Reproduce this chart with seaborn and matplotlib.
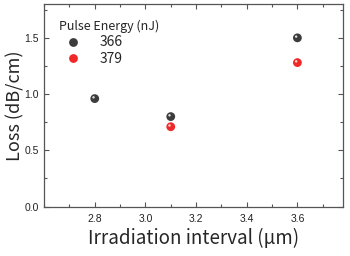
import pandas as pd
import matplotlib
matplotlib.use('Agg')
import matplotlib.pyplot as plt
import matplotlib.transforms as mtransforms
from matplotlib.ticker import MultipleLocator
import seaborn as sns

# data
interval_366 = [2.8, 3.1, 3.6]
loss_366 = [0.96, 0.80, 1.50]
interval_379 = [3.1, 3.6]
loss_379 = [0.71, 1.28]
energies = ['366', '379']
colors = {'366': '#3c3c3c', '379': '#f02828'}
xticks = [2.8, 3.0, 3.2, 3.4, 3.6]
yticks = [0.0, 0.5, 1.0, 1.5]

df = pd.concat([
    pd.DataFrame({'interval': interval_366, 'loss': loss_366, 'energy': '366'}),
    pd.DataFrame({'interval': interval_379, 'loss': loss_379, 'energy': '379'}),
])

sns.set_style('ticks')
plt.rcParams['font.family'] = ['Noto Sans CJK JP', 'DejaVu Sans']

fig = plt.figure(figsize=(3.5, 2.56), dpi=100)
ax = fig.add_axes([0.126, 0.193, 0.854, 0.791])

sns.scatterplot(data=df, x='interval', y='loss', hue='energy', hue_order=energies,
                palette=colors, s=40, edgecolor='none', ax=ax, zorder=3)

# small highlight to mimic the shaded spheres
hl = mtransforms.offset_copy(ax.transData, fig=fig, x=-0.9, y=0.9, units='points')
for xs, ys in [(interval_366, loss_366), (interval_379, loss_379)]:
    ax.scatter(xs, ys, s=3, color='white', alpha=0.85, edgecolor='none',
               transform=hl, zorder=4)

ax.set_xlim(2.6, 3.78)
ax.set_ylim(0, 1.8)
ax.set_xticks(xticks)
ax.set_yticks(yticks)
ax.xaxis.set_minor_locator(MultipleLocator(0.1))
ax.yaxis.set_minor_locator(MultipleLocator(0.25))
ax.tick_params(which='both', direction='in', top=True, right=True,
               labelsize=7.5, colors='#555555', labelcolor='#222222', pad=5)
ax.tick_params(axis='y', pad=4)
ax.tick_params(which='major', length=3.5, width=0.8)
ax.tick_params(which='minor', length=2, width=0.8)
for lab in ax.get_xticklabels() + ax.get_yticklabels():
    lab.set_family('Liberation Sans')
for s in ax.spines.values():
    s.set_color('#555555')
    s.set_linewidth(0.9)
    s.set_visible(True)

ax.set_xlabel('Irradiation interval (μm)', fontsize=13.5, labelpad=3)
ax.set_ylabel('Loss (dB/cm)', fontsize=13, labelpad=0)

leg = ax.legend(title='Pulse Energy (nJ)', loc='upper left', frameon=False,
                fontsize=10, title_fontsize=9, handletextpad=0.9,
                borderaxespad=0.6, labelspacing=0.2, borderpad=0.5)
leg._legend_box.align = 'left'

fig.savefig('out.png', dpi=100)
